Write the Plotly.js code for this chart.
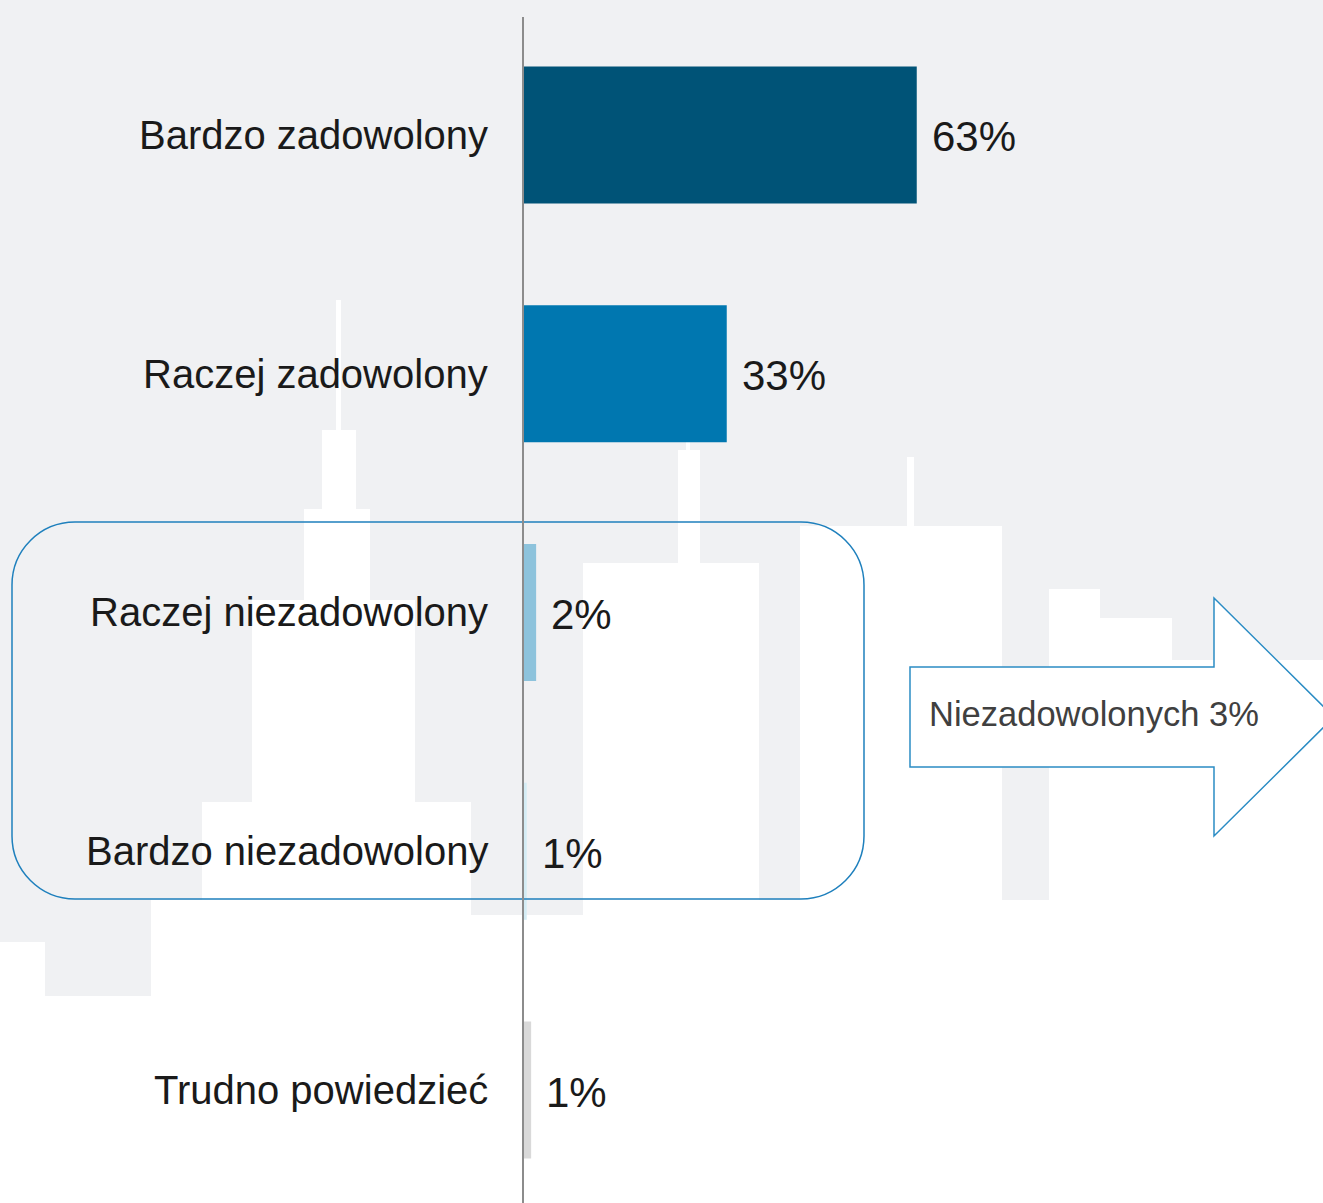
<!DOCTYPE html>
<html>
<head>
<meta charset="utf-8">
<script src="https://cdn.plot.ly/plotly-3.0.1.min.js"></script>
<style>html,body{margin:0;padding:0;background:#fff;}#chart{width:1323px;height:1203px;}</style>
</head>
<body>
<div id="chart"></div>
<script>
// ---- data ----
const categories = ["Bardzo zadowolony", "Raczej zadowolony", "Raczej niezadowolony", "Bardzo niezadowolony", "Trudno powiedzieć"];
const values = [63, 32.6, 2.1, 0.6, 1.3];
const valueLabels = ["63%", "33%", "2%", "1%", "1%"];
const barColors = ["#005377", "#0077b0", "#8dc3dc", "#d4ecf4", "#d9d9d9"];
const calloutText = "Niezadowolonych 3%";

// ---- layout helpers ----
const W = 1323, H = 1203;
const px = x => x / W;
const py = y => 1 - y / H;
const FONT = "Liberation Sans, Arial, sans-serif";

const shapes = [];
// background skyline (approximate)
function rect(x0, y0, x1, y1, color) {
  shapes.push({type: "rect", xref: "paper", yref: "paper", x0: px(x0), x1: px(x1), y0: py(y1), y1: py(y0),
    fillcolor: color, line: {width: 0}, layer: "below"});
}
const SKY = "#f0f1f3";
rect(0, 0, W, 900, SKY);
rect(0, 900, 45, 942, SKY);
rect(45, 900, 151, 996, SKY);
rect(471, 900, 583, 915, SKY);
const WHITE = "#ffffff";
[[336,300,341,430],[322,430,356,509],[304,509,370,600],[252,600,415,802],[202,802,471,900],
 [583,563,759,900],[678,450,700,563],[686,420,690,450],[800,526,1002,900],[907,457,914,526],
 [1049,589,1100,900],[1100,618,1172,900],[1172,660,1323,900]].forEach(r => rect(r[0], r[1], r[2], r[3], WHITE));

// rounded box
function roundRectPath(x0, y0, x1, y1, r) {
  const k = 0.5523 * r;
  const P = (x, y) => px(x).toFixed(5) + "," + py(y).toFixed(5);
  return "M" + P(x0 + r, y0) + " L" + P(x1 - r, y0) +
    " C" + P(x1 - r + k, y0) + " " + P(x1, y0 + r - k) + " " + P(x1, y0 + r) +
    " L" + P(x1, y1 - r) +
    " C" + P(x1, y1 - r + k) + " " + P(x1 - r + k, y1) + " " + P(x1 - r, y1) +
    " L" + P(x0 + r, y1) +
    " C" + P(x0 + r - k, y1) + " " + P(x0, y1 - r + k) + " " + P(x0, y1 - r) +
    " L" + P(x0, y0 + r) +
    " C" + P(x0, y0 + r - k) + " " + P(x0 + r - k, y0) + " " + P(x0 + r, y0) + " Z";
}
shapes.push({type: "path", xref: "paper", yref: "paper", path: roundRectPath(12, 522, 864, 899, 63),
  line: {color: "#1f80bd", width: 1.5}, fillcolor: "rgba(0,0,0,0)", layer: "above"});

// arrow
const arrowPts = [[910,667],[1214,667],[1214,598],[1334,717],[1214,836],[1214,767],[910,767]];
shapes.push({type: "path", xref: "paper", yref: "paper",
  path: "M" + arrowPts.map(p => px(p[0]).toFixed(5) + "," + py(p[1]).toFixed(5)).join(" L") + " Z",
  line: {color: "#2b8cc4", width: 1.5}, fillcolor: "#ffffff", layer: "below"});

// axis line
shapes.push({type: "line", xref: "x", yref: "paper", x0: 0, x1: 0, y0: 0, y1: py(17),
  line: {color: "#8c8c8c", width: 2}, layer: "above"});

const annotations = [];
categories.forEach((c, i) => {
  annotations.push({x: 0, y: c, xref: "x", yref: "y", text: c, showarrow: false, xanchor: "right", yanchor: "middle",
    xshift: -33, font: {family: FONT, size: 40, color: "#1a1a1a"}});
  annotations.push({x: values[i], y: c, xref: "x", yref: "y", text: valueLabels[i], showarrow: false, xanchor: "left", yanchor: "middle",
    xshift: 13, yshift: -2, font: {family: FONT, size: 42, color: "#1a1a1a"}});
});
annotations.push({x: px(927), y: py(714), xref: "paper", yref: "paper", text: calloutText, showarrow: false,
  xanchor: "left", yanchor: "middle", font: {family: FONT, size: 34.5, color: "#404040"}});

const trace = {
  type: "bar", orientation: "h", x: values, y: categories,
  marker: {color: barColors, line: {width: 0}}, width: 0.574, hoverinfo: "skip"
};

const layout = {
  width: W, height: H,
  margin: {l: 0, r: 0, t: 0, b: 0},
  paper_bgcolor: "#ffffff", plot_bgcolor: "rgba(0,0,0,0)",
  showlegend: false,
  xaxis: {range: [-523 / 6.25, (W - 523) / 6.25], visible: false, fixedrange: true},
  yaxis: {type: "category", categoryorder: "array", categoryarray: categories, range: [4.473, -0.565], visible: false, fixedrange: true},
  shapes: shapes, annotations: annotations,
  font: {family: FONT}
};

Plotly.newPlot("chart", [trace], layout, {displayModeBar: false, staticPlot: true});
</script>
</body>
</html>
